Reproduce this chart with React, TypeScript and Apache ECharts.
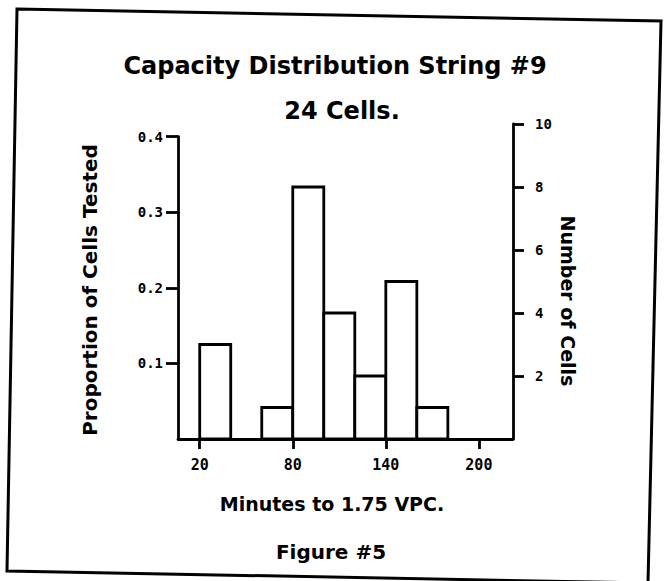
import React, { useEffect, useRef } from "react";
import * as echarts from "echarts";

const binStart = [20, 60, 80, 100, 120, 140, 160];
const binEnd = [40, 80, 100, 120, 140, 160, 180];
const cellCounts = [3, 1, 8, 4, 2, 5, 1];
const totalCells = 24;
const xTicks = [20, 80, 140, 200];
const proportionTicks = [0.1, 0.2, 0.3, 0.4];
const countTicks = [2, 4, 6, 8, 10];

const titleText = "Capacity Distribution String #9";
const subtitleText = "24 Cells.";
const xName = "Minutes to 1.75 VPC.";
const leftName = "Proportion of Cells Tested";
const rightName = "Number of Cells";
const figureText = "Figure #5";

export default function App() {
  const ref = useRef<HTMLDivElement>(null);
  useEffect(() => {
    document.body.style.margin = "0";
    const chart = echarts.init(ref.current!, null, { renderer: "svg" });
    const X_MIN = 6;
    const X_MAX = 222;
    const labelFont = {
      fontFamily: "DejaVu Sans Mono",
      fontWeight: "bold" as const,
      fontSize: 14,
      color: "#000",
    };
    const lineStyle = { color: "#000", width: 2.8 };
    const bold = "DejaVu Sans";
    const data = binStart.map((s, i) => [s, binEnd[i], cellCounts[i]]);
    const maxCells = countTicks[countTicks.length - 1];
    const maxProp = proportionTicks[proportionTicks.length - 1];
    const baseline = 439;
    const pxPerCell = 31.5;
    const topB = baseline - pxPerCell * maxCells;
    const topA = baseline - pxPerCell * maxProp * totalCells;
    const bottom = 581 - baseline;

    chart.setOption({
      animation: false,
      backgroundColor: "#fff",
      grid: [
        { left: 178, right: 153, top: topA, bottom },
        { left: 178, right: 153, top: topB, bottom },
      ],
      xAxis: [
        { type: "value", gridIndex: 0, min: X_MIN, max: X_MAX, show: false },
        {
          type: "value",
          gridIndex: 1,
          min: X_MIN,
          max: X_MAX,
          axisLine: { show: true, lineStyle },
          axisTick: { show: true, length: 10, lineStyle, customValues: xTicks },
          axisLabel: { ...labelFont, fontSize: 15, margin: 18, customValues: xTicks },
          splitLine: { show: false },
        },
      ],
      yAxis: [
        {
          type: "value",
          gridIndex: 0,
          position: "left",
          min: 0,
          max: maxProp,
          axisLine: { show: true, lineStyle },
          axisTick: { show: true, length: 12, lineStyle, customValues: proportionTicks },
          axisLabel: {
            ...labelFont,
            margin: 15,
            customValues: proportionTicks,
            formatter: (v: number) => v.toFixed(1),
          },
          splitLine: { show: false },
        },
        {
          type: "value",
          gridIndex: 1,
          position: "right",
          min: 0,
          max: maxCells,
          axisLine: { show: true, lineStyle },
          axisTick: { show: true, length: 11, lineStyle, customValues: countTicks },
          axisLabel: { ...labelFont, margin: 22, customValues: countTicks },
          splitLine: { show: false },
        },
      ],
      series: [
        {
          type: "custom",
          xAxisIndex: 1,
          yAxisIndex: 1,
          encode: { x: [0, 1], y: 2 },
          data,
          renderItem: (params: any, api: any) => {
            const p0 = api.coord([api.value(0), api.value(2)]);
            const p1 = api.coord([api.value(1), 0]);
            return {
              type: "rect",
              shape: { x: p0[0], y: p0[1], width: p1[0] - p0[0], height: p1[1] - p0[1] },
              style: { fill: "#fff", stroke: "#000", lineWidth: 2.8 },
            };
          },
        },
      ],
      graphic: [
        {
          type: "polygon",
          shape: { points: [[17, 9], [661, 21], [648, 583], [7, 571]] },
          style: { fill: "none", stroke: "#000", lineWidth: 3 },
          z: -1,
        },
        {
          type: "text",
          x: 335,
          y: 66,
          style: { text: titleText, font: `bold 24px "${bold}"`, fill: "#000", align: "center", verticalAlign: "middle" },
        },
        {
          type: "text",
          x: 342,
          y: 111,
          style: { text: subtitleText, font: `bold 24px "${bold}"`, fill: "#000", align: "center", verticalAlign: "middle" },
        },
        {
          type: "text",
          x: 332,
          y: 504,
          style: { text: xName, font: `bold 19px "${bold}"`, fill: "#000", align: "center", verticalAlign: "middle" },
        },
        {
          type: "text",
          x: 331,
          y: 552,
          style: { text: figureText, font: `bold 20px "${bold}"`, fill: "#000", align: "center", verticalAlign: "middle" },
        },
        {
          type: "text",
          x: 90,
          y: 290,
          rotation: Math.PI / 2,
          style: { text: leftName, font: `bold 20px "${bold}"`, fill: "#000", align: "center", verticalAlign: "middle" },
        },
        {
          type: "text",
          x: 568,
          y: 301,
          rotation: -Math.PI / 2,
          style: { text: rightName, font: `bold 19px "${bold}"`, fill: "#000", align: "center", verticalAlign: "middle" },
        },
      ],
    });
    return () => chart.dispose();
  }, []);
  return (
    <div
      ref={ref}
      style={{ position: "absolute", left: 0, top: 0, width: 666, height: 581 }}
    />
  );
}
